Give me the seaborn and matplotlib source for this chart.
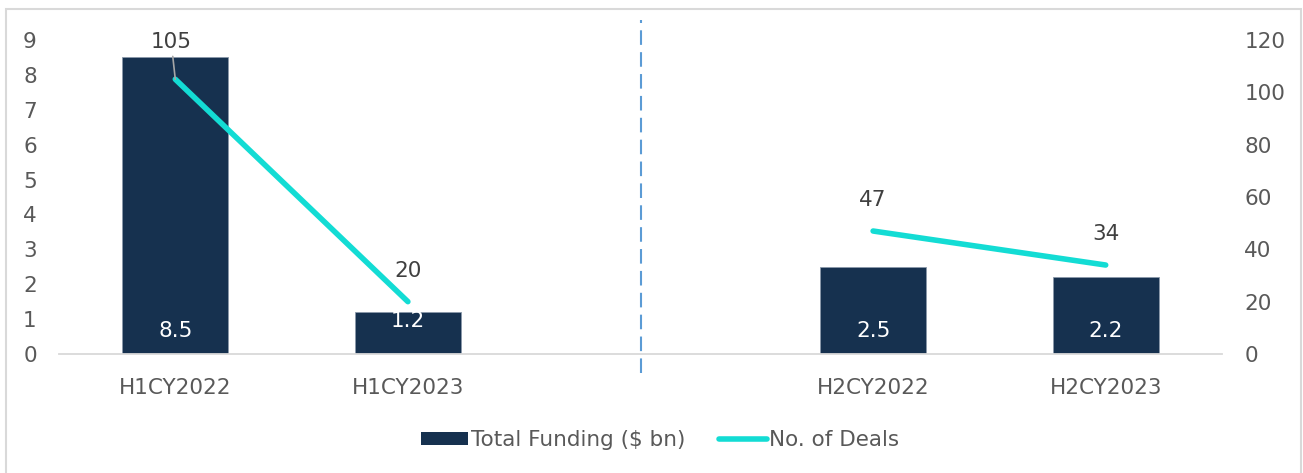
import matplotlib
matplotlib.use("Agg")
import matplotlib.pyplot as plt
import seaborn as sns
import pandas as pd
from matplotlib.patches import Rectangle, Patch
from matplotlib.lines import Line2D

# Data
periods = ["H1CY2022", "H1CY2023", "", "H2CY2022", "H2CY2023"]
funding_periods = ["H1CY2022", "H1CY2023", "H2CY2022", "H2CY2023"]
funding = [8.5, 1.2, 2.5, 2.2]
funding_labels = ["8.5", "1.2", "2.5", "2.2"]
deal_groups = [["H1CY2022", "H1CY2023"], ["H2CY2022", "H2CY2023"]]
deals = [[105, 20], [47, 34]]

bar_color = "#16314F"
line_color = "#13DCD4"
text_color = "#404040"
tick_color = "#595959"

sns.set_style("white")
plt.rcParams["font.family"] = ["DejaVu Sans"]

fig = plt.figure(figsize=(13.03, 4.73), dpi=100)
ax = fig.add_axes([59 / 1303, 1 - 354 / 473, (1222 - 59) / 1303, 314 / 473])

df = pd.DataFrame({"period": funding_periods, "funding": funding})
sns.barplot(data=df, x="period", y="funding", order=periods, color=bar_color,
            width=0.455, saturation=1, edgecolor="#8A99AA", linewidth=0.6, ax=ax)

# bar value labels (white, near the bottom of each bar)
label_lift = [16.5, 24, 16.5, 16.5]
for p, lab, lift in zip(funding_periods, funding_labels, label_lift):
    i = periods.index(p)
    ax.annotate(lab, (i, 0), xytext=(0, lift), textcoords="offset points",
                ha="center", va="center", color="white", fontsize=15.5)

ax.set_ylim(0, 9)
ax.set_xlim(-0.5, 4.5)
ax.set_yticks(range(0, 10))
ax.set_xlabel("")
ax.set_ylabel("")
ax.tick_params(axis="y", length=0, pad=16, labelsize=15.5, labelcolor=tick_color)
ax.tick_params(axis="x", length=0, pad=17, labelsize=15.5, labelcolor=tick_color)
for s in ["top", "left", "right"]:
    ax.spines[s].set_visible(False)
ax.spines["bottom"].set_color("#D9D9D9")
ax.spines["bottom"].set_linewidth(1.3)

# secondary axis: number of deals
ax2 = ax.twinx()
ax2.set_ylim(0, 120)
ax2.set_yticks(range(0, 121, 20))
ax2.tick_params(axis="y", length=0, pad=16, labelsize=15.5, labelcolor=tick_color)
for s in ax2.spines.values():
    s.set_visible(False)

for grp, vals in zip(deal_groups, deals):
    xs = [periods.index(g) for g in grp]
    ax2.plot(xs, vals, color=line_color, lw=4, solid_capstyle="round", zorder=3)
    for x, v in zip(xs, vals):
        if v == 105:
            ax2.annotate(str(v), (x, v), xytext=(-3, 27), textcoords="offset points",
                         ha="center", va="center", color=text_color, fontsize=15.5,
                         arrowprops=dict(arrowstyle="-", color="#A6A6A6", lw=1.2,
                                         shrinkA=1, shrinkB=0))
        else:
            ax2.annotate(str(v), (x, v), xytext=(0, 22), textcoords="offset points",
                         ha="center", va="center", color=text_color, fontsize=15.5)

# dashed divider between halves
ax.plot([2, 2], [-0.06, 1.065], transform=ax.get_xaxis_transform(), clip_on=False,
        color="#5B9BD5", lw=1.5, dashes=(7, 3.5))

# legend
handles = [Patch(facecolor=bar_color, edgecolor="none"),
           Line2D([0], [0], color=line_color, lw=4, solid_capstyle="round")]
fig.legend(handles, ["Total Funding ($ bn)", "No. of Deals"], loc="center",
           bbox_to_anchor=(660 / 1303, 1 - 440 / 473), ncol=2, frameon=False,
           fontsize=15.5, labelcolor=tick_color, handlelength=2.2,
           handleheight=0.6, handletextpad=0.1, columnspacing=1.6)

# outer border
fig.patches.append(Rectangle((6 / 1303, -0.05), (1301 - 6) / 1303, 1.05 - 9 / 473,
                             transform=fig.transFigure, fill=False,
                             edgecolor="#D9D9D9", lw=1.5))

fig.savefig("out.png", dpi=100)
